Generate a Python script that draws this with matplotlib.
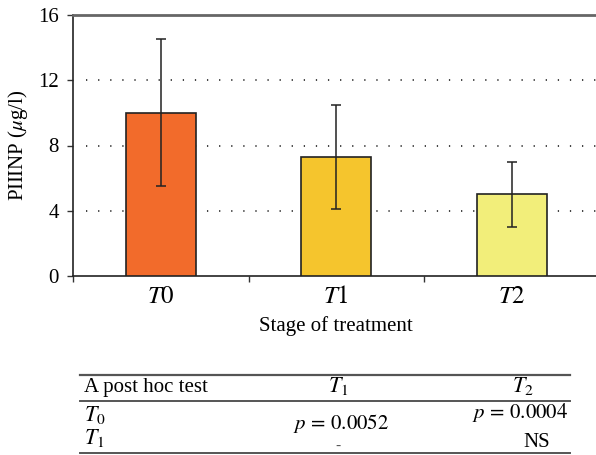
import matplotlib
matplotlib.use("Agg")
import matplotlib.pyplot as plt
from matplotlib.lines import Line2D

plt.rcParams['font.family'] = ['Liberation Serif', 'DejaVu Serif']
plt.rcParams['mathtext.fontset'] = 'stix'

categories = ['$T0$', '$T1$', '$T2$']
means = [10.0, 7.3, 5.0]
errors = [4.5, 3.2, 2.0]
bar_colors = ['#F26B2B', '#F5C52D', '#F2EE7A']
yticks = [0, 4, 8, 12, 16]

table_header = ['A post hoc test', '$T_1$', '$T_2$']
table_rows = [['$T_0$', '$p\\,=\\,0.0052$', '$p\\,=\\,0.0004$'],
              ['$T_1$', '-', 'NS']]

W, H = 596, 455
fig = plt.figure(figsize=(W/100, H/100), dpi=100)

def fx(x):
    return x / W

def fy(y):
    return 1 - y / H

ax_left, ax_right, ax_top, ax_bot = 73, 599.5, 15, 276
ax = fig.add_axes([fx(ax_left), fy(ax_bot), (ax_right-ax_left)/W, (ax_bot-ax_top)/H])

x = list(range(len(categories)))
ax.bar(x, means, width=0.4, color=bar_colors, edgecolor='#222222', linewidth=1.2, zorder=3)
ax.errorbar(x, means, yerr=errors, fmt='none', ecolor='#222222', elinewidth=1.1,
            capsize=3.6, capthick=1.1, zorder=4)

ax.set_xlim(-0.5, 2.5)
ax.set_ylim(0, 16)
ax.set_yticks(yticks)
ax.set_yticklabels([str(v) for v in yticks], fontsize=15)
ax.set_xticks(x)
ax.set_xticklabels(categories, fontsize=18)
ax.tick_params(axis='x', which='major', length=0, pad=7)
ax.set_xticks([-0.5, 0.5, 1.5, 2.5], minor=True)
ax.tick_params(axis='x', which='minor', length=4, width=1.0, color='#333333', direction='out')
ax.tick_params(axis='y', length=4, width=1.0, color='#333333', direction='out', pad=6)

for v in yticks[1:-1]:
    ax.axhline(v, xmin=0.025, xmax=1.0, color='#333333', linewidth=1.3,
               linestyle=(0, (0.7, 6.0)), zorder=1)

for s in ['left', 'bottom']:
    ax.spines[s].set_color('#222222')
    ax.spines[s].set_linewidth(1.2)
ax.spines['right'].set_visible(False)
ax.spines['top'].set_color('#666666')
ax.spines['top'].set_linewidth(2.0)

fig.text(fx(18), fy(145.5), 'PIIINP ($\\mu$g/l)', rotation=90, ha='center', va='center', fontsize=15)
fig.text(fx(336), fy(326), 'Stage of treatment', ha='center', va='center', fontsize=15)

# Table
def hline(y, lw):
    fig.add_artist(Line2D([fx(80), fx(570)], [fy(y), fy(y)], color='#555555', linewidth=lw,
                          transform=fig.transFigure))

hline(375, 1.6)
hline(401, 1.4)
hline(453, 1.4)

fs = 15
fig.text(fx(84), fy(392), table_header[0], ha='left', va='baseline', fontsize=fs)
fig.text(fx(338), fy(392), table_header[1], ha='center', va='baseline', fontsize=fs+1)
fig.text(fx(523), fy(392), table_header[2], ha='center', va='baseline', fontsize=fs+1)

fig.text(fx(84), fy(421), table_rows[0][0], ha='left', va='baseline', fontsize=fs+1)
fig.text(fx(341), fy(429), table_rows[0][1], ha='center', va='baseline', fontsize=fs)
fig.text(fx(568), fy(418), table_rows[0][2], ha='right', va='baseline', fontsize=fs)

fig.text(fx(84), fy(444), table_rows[1][0], ha='left', va='baseline', fontsize=fs+1)
fig.text(fx(338), fy(450), table_rows[1][1], ha='center', va='baseline', fontsize=11, color='#555555')
fig.text(fx(537), fy(447), table_rows[1][2], ha='center', va='baseline', fontsize=fs)

fig.savefig('out.png', dpi=100)
